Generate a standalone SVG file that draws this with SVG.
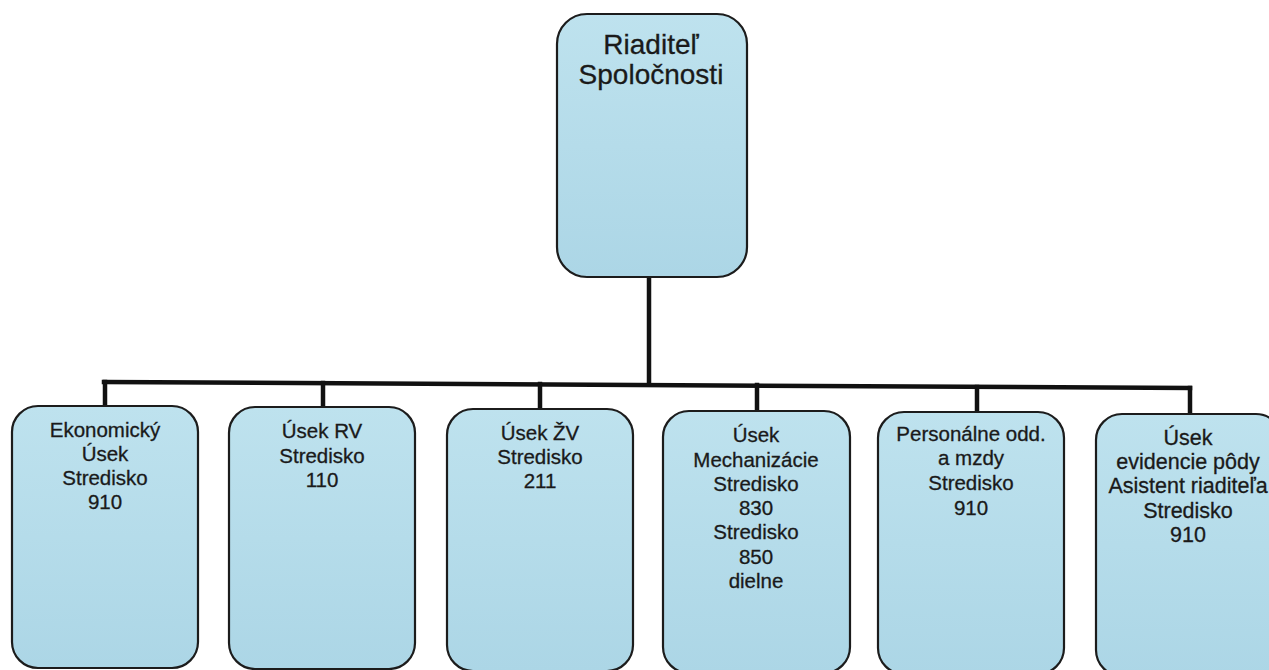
<svg xmlns="http://www.w3.org/2000/svg" width="1269" height="670" viewBox="0 0 1269 670">
<defs>
<linearGradient id="fillG" x1="0" y1="0" x2="0" y2="1">
<stop offset="0" stop-color="#bee2ee"/>
<stop offset="1" stop-color="#acd6e6"/>
</linearGradient>
<style>
.box{fill:url(#fillG);stroke:#1c1c1c;stroke-width:2.2}
.t{font-family:"Liberation Sans",Arial,sans-serif;font-size:20.5px;fill:#1a1a1a;stroke:#1a1a1a;stroke-width:0.3;text-anchor:middle}
.tt{font-family:"Liberation Sans",Arial,sans-serif;font-size:28px;fill:#1a1a1a;stroke:#1a1a1a;stroke-width:0.3;text-anchor:middle}
.c{stroke:#111;stroke-width:4.5;fill:none;stroke-linecap:square}
</style>
</defs>
<rect width="1269" height="670" fill="#ffffff"/>
<g id="connectors">
<path class="c" d="M649 277 L649 384"/>
<path class="c" d="M104 382 L1190 388"/>
<path class="c" d="M105 382 L105 406"/>
<path class="c" d="M323 383 L323 407"/>
<path class="c" d="M540 384 L540 409"/>
<path class="c" d="M757 385 L757 411"/>
<path class="c" d="M977 387 L977 412"/>
<path class="c" d="M1190 388 L1190 414"/>
</g>
<g id="n0">
<rect class="box" x="557" y="14" width="190" height="263" rx="30" ry="30"/>
<text class="tt" x="651" y="54">Riaditeľ</text>
<text class="tt" x="651" y="84">Spoločnosti</text>
</g>
<g id="n1">
<rect class="box" x="12" y="406" width="186" height="262" rx="26" ry="26"/>
<text class="t" x="105" y="437">Ekonomický</text>
<text class="t" x="105" y="461">Úsek</text>
<text class="t" x="105" y="485">Stredisko</text>
<text class="t" x="105" y="509">910</text>
</g>
<g id="n2">
<rect class="box" x="229" y="407" width="186" height="262" rx="26" ry="26"/>
<text class="t" x="322" y="438">Úsek RV</text>
<text class="t" x="322" y="463">Stredisko</text>
<text class="t" x="322" y="487">110</text>
</g>
<g id="n3">
<rect class="box" x="447" y="409" width="186" height="262" rx="26" ry="26"/>
<text class="t" x="540" y="440">Úsek ŽV</text>
<text class="t" x="540" y="464">Stredisko</text>
<text class="t" x="540" y="488">211</text>
</g>
<g id="n4">
<rect class="box" x="663" y="411" width="187" height="262" rx="26" ry="26"/>
<text class="t" x="756" y="442">Úsek</text>
<text class="t" x="756" y="467">Mechanizácie</text>
<text class="t" x="756" y="491">Stredisko</text>
<text class="t" x="756" y="515">830</text>
<text class="t" x="756" y="539">Stredisko</text>
<text class="t" x="756" y="564">850</text>
<text class="t" x="756" y="588">dielne</text>
</g>
<g id="n5">
<rect class="box" x="878" y="412" width="186" height="262" rx="26" ry="26"/>
<text class="t" x="971" y="441">Personálne odd.</text>
<text class="t" x="971" y="465">a mzdy</text>
<text class="t" x="971" y="490">Stredisko</text>
<text class="t" x="971" y="515">910</text>
</g>
<g id="n6">
<rect class="box" x="1096" y="414" width="186" height="262" rx="26" ry="26"/>
<text class="t" x="1188" y="445" style="font-size:21.5px">Úsek</text>
<text class="t" x="1188" y="469" style="font-size:21.5px">evidencie pôdy</text>
<text class="t" x="1188" y="493" style="font-size:21.5px">Asistent riaditeľa</text>
<text class="t" x="1188" y="518" style="font-size:21.5px">Stredisko</text>
<text class="t" x="1188" y="542" style="font-size:21.5px">910</text>
</g>
</svg>
